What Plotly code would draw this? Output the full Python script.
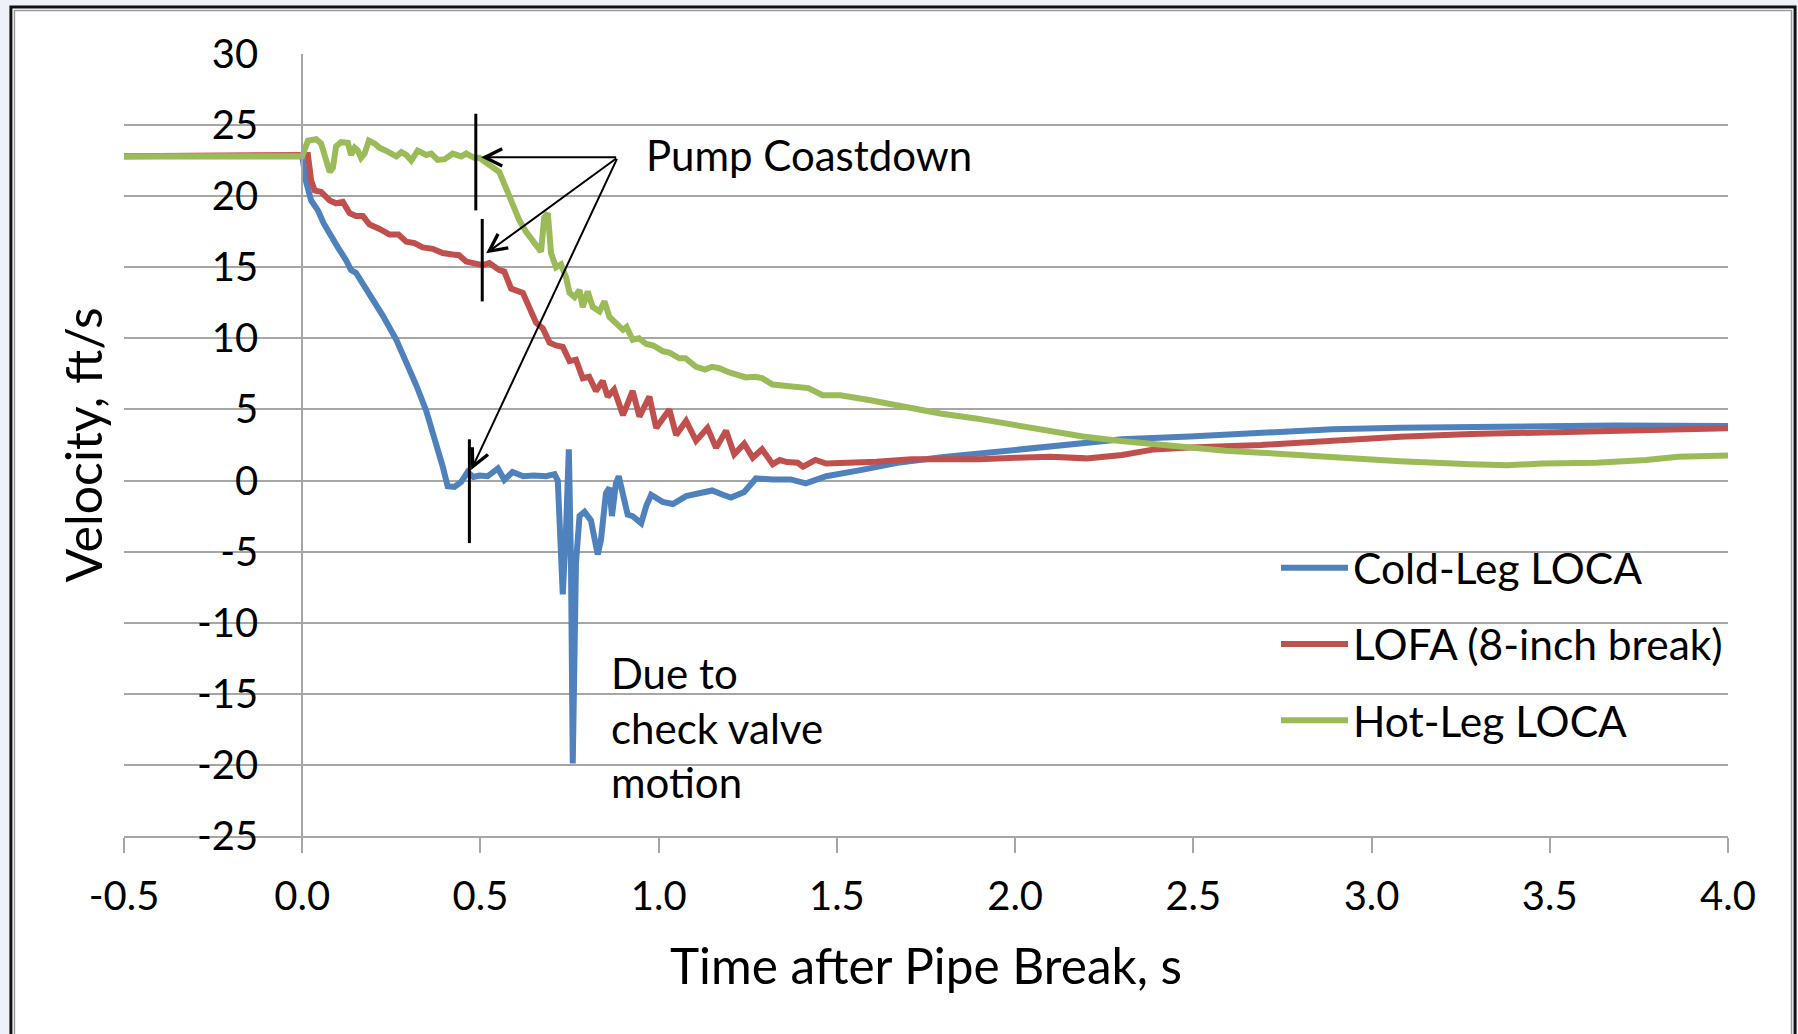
import plotly.graph_objects as go

# ---- data: coolant velocity after pipe break (ft/s vs s) ----
cold_t = [-0.5, 0.0, 0.002, 0.011, 0.025, 0.044, 0.06, 0.077, 0.1, 0.123, 0.137, 0.151, 0.161,
          0.189, 0.226, 0.264, 0.292, 0.32, 0.348, 0.376, 0.394, 0.408, 0.427, 0.446, 0.464,
          0.48, 0.497, 0.52, 0.549, 0.567, 0.59, 0.62, 0.65, 0.684, 0.708, 0.717, 0.731,
          0.74, 0.748, 0.754, 0.759, 0.768, 0.778, 0.792, 0.81, 0.829, 0.838, 0.852, 0.862,
          0.869, 0.88, 0.888, 0.9, 0.913, 0.927, 0.951, 0.965, 0.979, 1.011, 1.04, 1.077,
          1.123, 1.15, 1.18, 1.203, 1.24, 1.273, 1.32, 1.37, 1.413, 1.47, 1.57, 1.67, 1.8,
          1.9, 2.0, 2.1, 2.2, 2.3, 2.49, 2.69, 2.89, 3.08, 3.28, 3.48, 3.68, 4.0]
cold_v = [22.8, 22.8, 22.5, 21.0, 19.7, 19.0, 18.1, 17.3, 16.4, 15.5, 14.8, 14.6, 14.2,
          13.2, 11.6, 9.9, 8.4, 6.7, 4.9, 2.7, 1.0, -0.4, -0.45, -0.1, 0.6,
          0.25, 0.35, 0.3, 0.85, 0.05, 0.6, 0.3, 0.35, 0.3, 0.45, 0.0, -8.0,
          -3.5, 2.2, -5.8, -19.9, -5.8, -2.5, -2.2, -2.8, -5.2, -4.2, -0.9, -0.5,
          -2.5, -0.2, 0.3, -1.1, -2.4, -2.5, -3.0, -1.8, -1.0, -1.5, -1.65, -1.1,
          -0.8, -0.7, -1.0, -1.2, -0.8, 0.15, 0.08, 0.08, -0.2, 0.3, 0.75, 1.25, 1.65,
          1.9, 2.2, 2.5, 2.75, 2.9, 3.1, 3.35, 3.6, 3.72, 3.78, 3.86, 3.87, 3.83]

lofa_t = [-0.5, 0.0, 0.016, 0.025, 0.035, 0.053, 0.077, 0.095, 0.114, 0.133, 0.151, 0.17,
          0.189, 0.217, 0.245, 0.27, 0.292, 0.315, 0.338, 0.366, 0.394, 0.422, 0.44, 0.46,
          0.488, 0.507, 0.525, 0.553, 0.567, 0.586, 0.619, 0.637, 0.656, 0.675, 0.694,
          0.712, 0.731, 0.75, 0.768, 0.787, 0.805, 0.824, 0.843, 0.857, 0.875, 0.9, 0.927,
          0.946, 0.974, 0.993, 1.03, 1.049, 1.077, 1.105, 1.137, 1.161, 1.189, 1.212, 1.24,
          1.264, 1.29, 1.32, 1.34, 1.36, 1.39, 1.405, 1.44, 1.47, 1.5, 1.61, 1.71, 1.9, 2.0,
          2.1, 2.2, 2.3, 2.39, 2.49, 2.69, 2.89, 3.08, 3.28, 3.48, 3.68, 4.0]
lofa_v = [22.8, 22.8, 22.9, 21.1, 20.4, 20.3, 19.7, 19.5, 19.6, 18.8, 18.6, 18.6,
          18.0, 17.7, 17.3, 17.3, 16.8, 16.7, 16.4, 16.3, 16.0, 15.9, 15.85, 15.4,
          15.3, 15.15, 15.3, 14.8, 14.7, 13.5, 13.2, 12.2, 11.1, 10.7, 9.7,
          9.5, 9.4, 8.4, 8.5, 7.2, 7.3, 6.3, 7.0, 5.9, 6.4, 4.6, 6.3,
          4.5, 5.9, 3.7, 5.0, 3.2, 4.2, 2.8, 3.7, 2.3, 3.5, 1.85, 2.6,
          1.6, 2.2, 1.15, 1.44, 1.3, 1.25, 0.97, 1.45, 1.2, 1.21, 1.33, 1.49, 1.49, 1.6,
          1.67, 1.56, 1.8, 2.19, 2.33, 2.5, 2.85, 3.08, 3.27, 3.36, 3.46, 3.67]

hot_t = [-0.5, 0.0, 0.016, 0.039, 0.053, 0.067, 0.077, 0.086, 0.095, 0.109, 0.128, 0.137,
         0.147, 0.156, 0.165, 0.175, 0.187, 0.203, 0.217, 0.235, 0.25, 0.264, 0.278, 0.292,
         0.306, 0.324, 0.348, 0.362, 0.38, 0.4, 0.422, 0.446, 0.46, 0.483, 0.497, 0.535,
         0.553, 0.581, 0.609, 0.628, 0.647, 0.67, 0.679, 0.689, 0.698, 0.712, 0.726, 0.74,
         0.75, 0.764, 0.778, 0.787, 0.801, 0.815, 0.834, 0.848, 0.862, 0.88, 0.9, 0.91,
         0.927, 0.945, 0.965, 0.985, 1.011, 1.03, 1.058, 1.075, 1.105, 1.13, 1.15, 1.17,
         1.198, 1.245, 1.27, 1.29, 1.32, 1.36, 1.39, 1.42, 1.46, 1.51, 1.59, 1.69, 1.79,
         1.89, 1.99, 2.09, 2.19, 2.29, 2.39, 2.49, 2.59, 2.69, 2.89, 3.08, 3.28, 3.38,
         3.48, 3.63, 3.77, 3.86, 4.0]
hot_v = [22.8, 22.8, 23.9, 24.0, 23.7, 22.4, 21.7, 22.0, 23.5, 23.8, 23.75, 22.9,
         23.4, 23.2, 22.7, 23.0, 23.9, 23.7, 23.4, 23.2, 23.0, 22.8, 23.1, 22.9,
         22.5, 23.2, 22.9, 23.0, 22.55, 22.6, 23.0, 22.8, 23.0, 22.7, 22.7, 22.0,
         21.7, 20.0, 18.3, 17.5, 16.9, 16.1, 18.5, 18.8, 16.0, 15.0, 15.2, 14.3,
         13.2, 12.9, 13.4, 12.2, 13.3, 12.2, 11.9, 12.6, 11.5, 11.05, 10.6, 10.8,
         9.9, 10.0, 9.6, 9.5, 9.1, 9.0, 8.6, 8.6, 8.0, 7.8, 8.0, 7.9,
         7.6, 7.25, 7.3, 7.2, 6.75, 6.65, 6.6, 6.5, 6.0, 6.0, 5.66, 5.2, 4.72,
         4.37, 3.93, 3.52, 3.1, 2.8, 2.55, 2.3, 2.1, 1.96, 1.63, 1.35, 1.14, 1.07,
         1.2, 1.25, 1.44, 1.68, 1.77]

series_names = ["Cold-Leg LOCA", "LOFA (8-inch break)", "Hot-Leg LOCA"]
series_colors = ["#4F81BD", "#C0504D", "#9BBB59"]

x_tick_vals = [-0.5, 0.0, 0.5, 1.0, 1.5, 2.0, 2.5, 3.0, 3.5, 4.0]
x_tick_text = ["-0.5", "0.0", "0.5", "1.0", "1.5", "2.0", "2.5", "3.0", "3.5", "4.0"]
y_tick_vals = [30, 25, 20, 15, 10, 5, 0, -5, -10, -15, -20, -25]
y_tick_text = ["30", "25", "20", "15", "10", "5", "0", "-5", "-10", "-15", "-20", "-25"]

# pump coastdown markers (time, low, high) and arrow tips (time, velocity)
marker_t = [0.487, 0.505, 0.469]
marker_lo = [19.0, 12.6, -4.4]
marker_hi = [25.8, 18.4, 2.9]
arrow_tip_t = [0.502, 0.516, 0.474]
arrow_tip_v = [22.73, 15.98, 0.74]
arrow_origin = (0.885, 22.73)

FONT = "Lato"
GRID = "#a6a6a6"

fig = go.Figure()
for name, t, v, color in zip(series_names, [cold_t, lofa_t, hot_t], [cold_v, lofa_v, hot_v],
                             series_colors):
    fig.add_trace(go.Scatter(x=t, y=v, mode="lines", name=name, legendgroup=name,
                             line=dict(color=color, width=6)))

# outer chart frame (paper coordinates reach outside the plotting area)
shapes = [
    dict(type="rect", xref="paper", yref="paper", x0=-0.0705, x1=1.0418, y0=-0.27, y1=1.0601,
         line=dict(color="#111111", width=3), fillcolor="white", layer="below"),
    dict(type="rect", xref="paper", yref="paper", x0=-0.0683, x1=1.0396, y0=-0.27, y1=1.0556,
         line=dict(color="#9a9a9a", width=1.5), fillcolor="rgba(0,0,0,0)", layer="below"),
]
for t, lo, hi in zip(marker_t, marker_lo, marker_hi):
    shapes.append(dict(type="line", xref="x", yref="y", x0=t, x1=t, y0=lo, y1=hi,
                       line=dict(color="black", width=3)))

annotations = []
for tx, ty in zip(arrow_tip_t, arrow_tip_v):
    annotations.append(dict(x=tx, y=ty, ax=arrow_origin[0], ay=arrow_origin[1],
                            xref="x", yref="y", axref="x", ayref="y", text="",
                            showarrow=True, arrowhead=5, arrowsize=1.7, arrowwidth=2,
                            arrowcolor="black", standoff=0, startstandoff=0))
annotations.append(dict(x=0.958, y=22.9, xref="x", yref="y", text="Pump Coastdown",
                        showarrow=False, xanchor="left", yanchor="middle",
                        font=dict(family=FONT, size=42, color="black")))
annotations.append(dict(x=0.862, y=-17.4, xref="x", yref="y",
                        text="Due to<br>check valve<br>motion", align="left",
                        showarrow=False, xanchor="left", yanchor="middle",
                        font=dict(family=FONT, size=42, color="black")))

fig.update_layout(
    width=1798, height=1034,
    margin=dict(l=124, r=70, t=54, b=198, pad=0),
    paper_bgcolor="#eef1f7",
    plot_bgcolor="rgba(0,0,0,0)",
    font=dict(family=FONT, color="black"),
    shapes=shapes,
    annotations=annotations,
    showlegend=True,
    legend=dict(x=0.7182, y=0.3868, xanchor="left", yanchor="top",
                bgcolor="rgba(0,0,0,0)", borderwidth=0, itemwidth=67,
                tracegroupgap=18, font=dict(family=FONT, size=42.5, color="black")),
    xaxis=dict(range=[-0.5, 4.0], tickmode="array", tickvals=x_tick_vals, ticktext=x_tick_text,
               showgrid=False, zeroline=False, showline=True, linecolor=GRID, linewidth=2,
               ticks="outside", ticklen=15, tickwidth=2, tickcolor=GRID, anchor="y",
               ticklabelstandoff=9,
               tickfont=dict(family=FONT, size=40, color="black"),
               title=dict(text="Time after Pipe Break, s",
                          font=dict(family=FONT, size=49.5, color="black"), standoff=31)),
    yaxis=dict(range=[-25, 30], tickmode="array", tickvals=y_tick_vals, ticktext=y_tick_text,
               showgrid=True, gridcolor=GRID, gridwidth=2, zeroline=False,
               showline=True, linecolor=GRID, linewidth=2, ticks="",
               anchor="free", position=0.5 / 4.5, ticklabelstandoff=35,
               tickfont=dict(family=FONT, size=40, color="black"),
               title=dict(text="Velocity, ft/s",
                          font=dict(family=FONT, size=50, color="black"), standoff=77)),
)

fig.write_html("out.html")
